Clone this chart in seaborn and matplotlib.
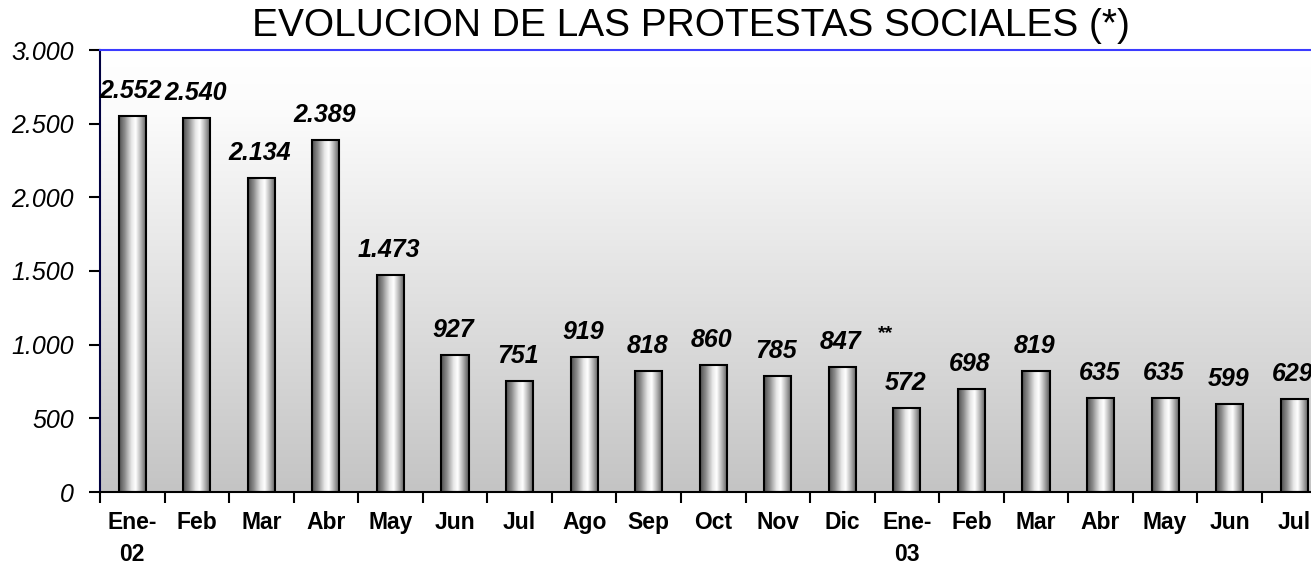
import numpy as np
import pandas as pd
import matplotlib
matplotlib.use('Agg')
import matplotlib.pyplot as plt
import seaborn as sns
from matplotlib.colors import LinearSegmentedColormap
from matplotlib.ticker import FuncFormatter, FixedLocator

months = ['Ene-\n02', 'Feb', 'Mar', 'Abr', 'May', 'Jun', 'Jul', 'Ago', 'Sep', 'Oct',
          'Nov', 'Dic', 'Ene-\n03', 'Feb', 'Mar', 'Abr', 'May', 'Jun', 'Jul']
protestas = [2552, 2540, 2134, 2389, 1473, 927, 751, 919, 818, 860,
             785, 847, 572, 698, 819, 635, 635, 599, 629]
y_ticks = [0, 500, 1000, 1500, 2000, 2500, 3000]

sns.set_style('white')
plt.rcParams['font.family'] = ['Liberation Sans', 'DejaVu Sans']
plt.rcParams['text.color'] = 'black'
plt.rcParams['xtick.color'] = 'black'
plt.rcParams['ytick.color'] = 'black'

df = pd.DataFrame({'pos': range(len(months)), 'valor': protestas})

fig = plt.figure(figsize=(13.11, 5.76), dpi=100)
ax = fig.add_axes([100 / 1311, 84 / 576, 1226.5 / 1311, 442 / 576])

sns.barplot(data=df, x='pos', y='valor', ax=ax, width=0.42,
            facecolor='none', edgecolor='black', linewidth=1.5, zorder=3)

xmax = len(months) - 0.5

# fondo degradado blanco (arriba) -> gris (abajo)
bg = np.linspace(0, 1, 256).reshape(-1, 1)
bg_cmap = LinearSegmentedColormap.from_list('bg', [(0, '#ffffff'), (0.15, '#fbfbfb'), (1, '#c4c4c4')])
ax.imshow(bg, cmap=bg_cmap, extent=[-0.5, xmax, 0, 3000],
          aspect='auto', zorder=0, origin='upper')

# barras tipo cilindro
bar_cmap = LinearSegmentedColormap.from_list(
    'bar', [(0, '#505050'), (0.2, '#8c8c8c'), (0.45, '#e8e8e8'), (0.6, '#ffffff'),
            (0.8, '#b0b0b0'), (1, '#585858')])
grad = np.linspace(0, 1, 64).reshape(1, -1)
for p in ax.patches:
    x0, w, h = p.get_x(), p.get_width(), p.get_height()
    im = ax.imshow(grad, cmap=bar_cmap, extent=[x0, x0 + w, 0, h],
                   aspect='auto', zorder=2, origin='lower')
    im.set_clip_path(p)
ax.set_xlim(-0.5, xmax)
ax.set_ylim(0, 3000)

# etiquetas de valor
for i, v in enumerate(protestas):
    ax.annotate(f'{v:,}'.replace(',', '.'), (i, v), xytext=(-1, 18), textcoords='offset points',
                ha='center', va='center', fontsize=18, fontweight='bold', fontstyle='italic',
                zorder=5, annotation_clip=False)
ax.text(11.67, 1075, '**', ha='center', va='center', fontsize=14, fontweight='bold', zorder=5)

# ejes
ax.yaxis.set_major_locator(FixedLocator(y_ticks))
ax.yaxis.set_major_formatter(FuncFormatter(lambda v, _: f'{int(v):,}'.replace(',', '.')))
ax.tick_params(axis='y', which='major', direction='out', length=8, width=1.5,
               labelsize=18, pad=11, left=True)
for t in ax.get_yticklabels():
    t.set_fontstyle('italic')

ax.set_xticks(np.arange(-0.5, len(months), 1.0))
ax.set_xticklabels([])
ax.set_xticks(np.arange(len(months)), minor=True)
ax.set_xticklabels(months, minor=True, fontsize=16.5, fontweight='bold', linespacing=1.45)
ax.tick_params(axis='x', which='major', direction='out', length=8, width=1.5, bottom=True)
ax.tick_params(axis='x', which='minor', length=0, pad=14)
ax.set_xlabel('')
ax.set_ylabel('')

ax.spines['top'].set_color('#3b3bff')
ax.spines['top'].set_linewidth(1.5)
ax.spines['left'].set_color('#000040')
ax.spines['left'].set_linewidth(1.5)
ax.spines['bottom'].set_color('black')
ax.spines['bottom'].set_linewidth(1.5)
ax.spines['right'].set_visible(False)

fig.text(691 / 1311, 1 - 26 / 576, 'EVOLUCION DE LAS PROTESTAS SOCIALES (*)',
         ha='center', va='center', fontsize=28)

fig.savefig('out.png', dpi=100)
